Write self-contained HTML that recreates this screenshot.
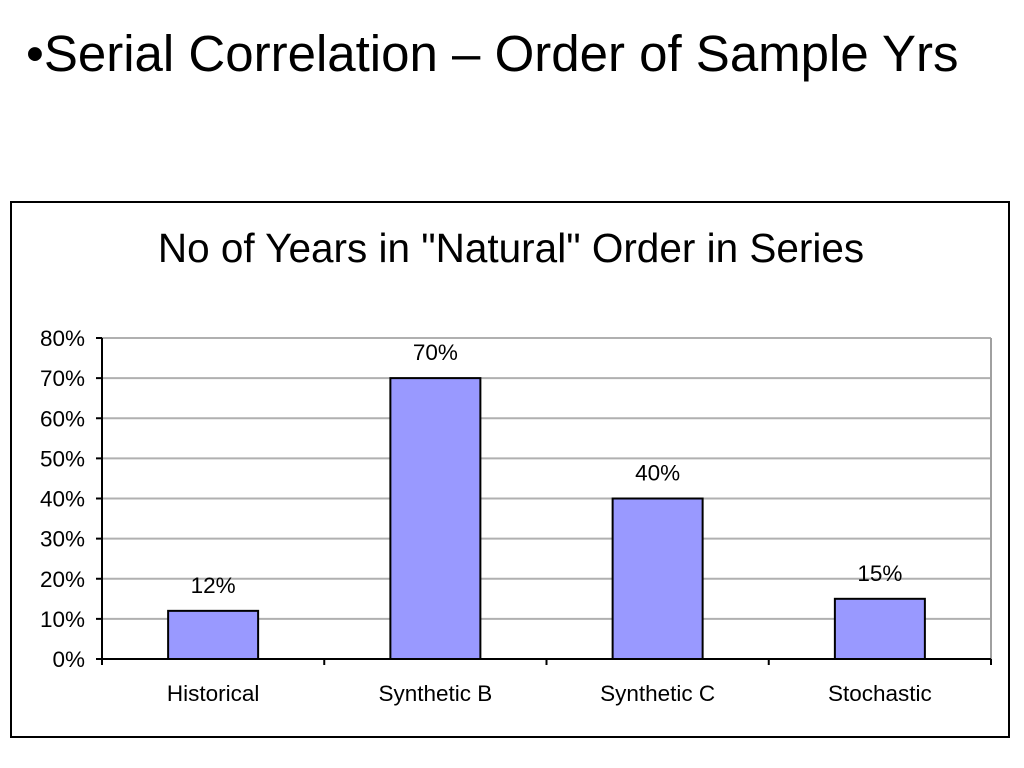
<!DOCTYPE html>
<html><head><meta charset="utf-8"><style>
body{margin:0;width:1024px;height:768px;background:#fff;font-family:"Liberation Sans",sans-serif;overflow:hidden;position:relative}
#title{position:absolute;left:26px;top:24px;font-size:51px;line-height:60px;color:#000;white-space:nowrap}
#box{position:absolute;left:10px;top:201px;width:996px;height:533px;border:2px solid #000}
</style></head><body>
<div id="title">•Serial Correlation – Order of Sample Yrs</div>
<div id="box"></div>
<svg id="chart" width="1024" height="768" style="position:absolute;left:0;top:0">
<text x="511" y="262" font-size="40.5" text-anchor="middle" font-family="Liberation Sans">No of Years in "Natural" Order in Series</text>
</svg>
<script>
const categories=["Historical","Synthetic B","Synthetic C","Stochastic"];
const values=[12,70,40,15];
const valueLabels=["12%","70%","40%","15%"];
const yTicks=[0,10,20,30,40,50,60,70,80];
const svg=document.getElementById('chart');
const NS='http://www.w3.org/2000/svg';
const L=102,R=991,T=338,B=659,yMax=80;
const y=v=>B-(v/yMax)*(B-T);
const cw=(R-L)/categories.length;
const x=i=>L+cw*(i+0.5);
function mk(tag,at){const e=document.createElementNS(NS,tag);for(const k in at)e.setAttribute(k,at[k]);svg.appendChild(e);return e;}
yTicks.forEach(t=>{
  if(t>0){const g=mk('line',{x1:L,x2:R,y1:y(t),y2:y(t),stroke:'#b0b0b0','stroke-width':2});
  
  }
  const tk=mk('line',{x1:L-6,x2:L,y1:y(t),y2:y(t),stroke:'#000','stroke-width':2});
  
  
  const tx=mk('text',{x:L-17,y:y(t)+8,'font-size':22.5,'text-anchor':'end','font-family':'Liberation Sans'});
  tx.textContent=t+'%';
  
  
});
const rb=mk('line',{x1:R,x2:R,y1:T,y2:B,stroke:'#a0a0a0','stroke-width':2});


const ya=mk('line',{x1:L,x2:L,y1:T,y2:B,stroke:'#000','stroke-width':2});


categories.forEach((c,i)=>{
  const bw=90;
  const b=mk('rect',{x:x(i)-bw/2,y:y(values[i]),width:bw,height:B-y(values[i]),fill:'#9999ff',stroke:'#000','stroke-width':2});
  
  
  const v=mk('text',{x:x(i),y:y(values[i])-18,'font-size':22.5,'text-anchor':'middle','font-family':'Liberation Sans'});
  v.textContent=valueLabels[i];
  
  
  const cl=mk('text',{x:x(i),y:701,'font-size':22.5,'text-anchor':'middle','font-family':'Liberation Sans'});
  cl.textContent=c;
  
  
});
for(let i=0;i<=categories.length;i++){
  const tk=mk('line',{x1:L+cw*i,x2:L+cw*i,y1:B,y2:B+6,stroke:'#000','stroke-width':2});
  
  
}
const xa=mk('line',{x1:L,x2:R,y1:B,y2:B,stroke:'#000','stroke-width':2});


</script>
</body></html>
